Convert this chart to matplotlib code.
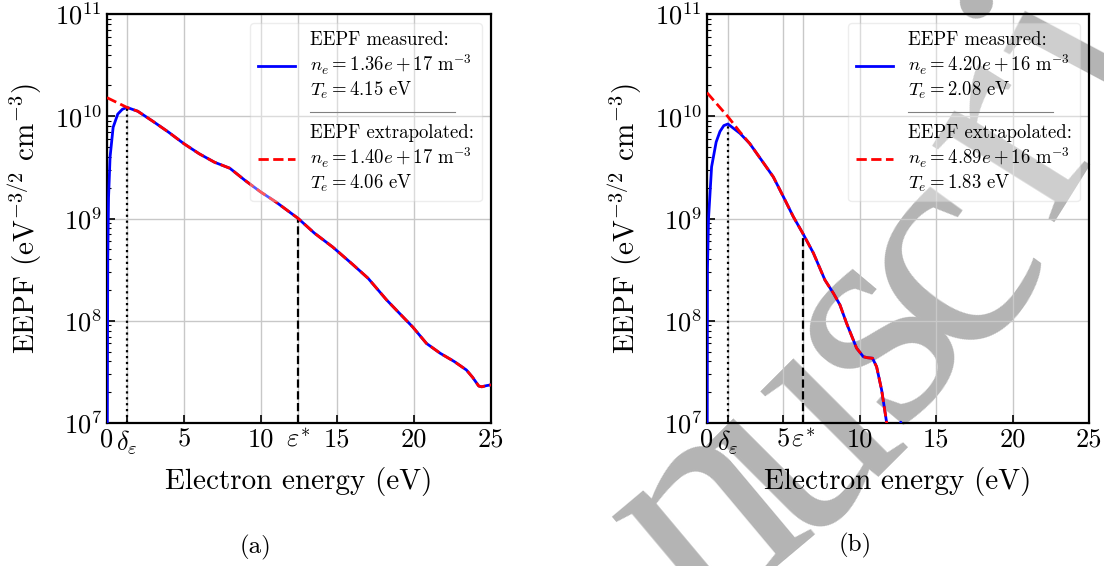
import numpy as np
import matplotlib
matplotlib.use("Agg")
import matplotlib.pyplot as plt
from matplotlib.lines import Line2D

plt.rcParams['font.family'] = 'serif'
plt.rcParams['font.serif'] = ['cmr10']
plt.rcParams['mathtext.fontset'] = 'cm'
plt.rcParams['axes.unicode_minus'] = False
plt.rcParams['axes.formatter.use_mathtext'] = True

# ---- panel (a) ----
energy_meas_a = [0.0, 0.05, 0.1, 0.2, 0.4, 0.7, 1.0, 1.3, 2.0, 3.0, 4.0, 5.0, 6.0, 7.0, 8.0,
                 9.0, 10.0, 11.0, 12.45, 13.5, 14.7, 16.0, 17.0, 18.2, 19.0, 19.9, 20.8,
                 21.7, 22.6, 23.4, 23.8, 24.2, 24.4, 24.7, 25.0]
eepf_meas_a = [1.0e6, 4.0e8, 1.6e9, 4.0e9, 7.8e9, 1.05e10, 1.17e10, 1.22e10, 1.12e10, 8.9e9,
               7.0e9, 5.4e9, 4.3e9, 3.55e9, 3.1e9, 2.35e9, 1.82e9, 1.45e9, 1.0e9, 7.2e8,
               5.25e8, 3.55e8, 2.6e8, 1.6e8, 1.2e8, 8.7e7, 6.0e7, 4.8e7, 4.0e7, 3.3e7,
               2.8e7, 2.3e7, 2.26e7, 2.32e7, 2.36e7]
energy_ext_a = [0.0, 1.3, 2.0, 3.0, 4.0, 5.0, 6.0, 7.0, 8.0, 9.0, 10.0, 11.0, 12.45, 13.5,
                14.7, 16.0, 17.0, 18.2, 19.0, 19.9, 20.8, 21.7, 22.6, 23.4, 23.8, 24.2,
                24.4, 24.7, 25.0]
eepf_ext_a = [1.52e10, 1.22e10, 1.12e10, 8.9e9, 7.0e9, 5.4e9, 4.3e9, 3.55e9, 3.1e9, 2.35e9,
              1.82e9, 1.45e9, 1.0e9, 7.2e8, 5.25e8, 3.55e8, 2.6e8, 1.6e8, 1.2e8, 8.7e7,
              6.0e7, 4.8e7, 4.0e7, 3.3e7, 2.8e7, 2.3e7, 2.26e7, 2.32e7, 2.36e7]
delta_a, eps_a = 1.3, 12.45
eepf_delta_a, eepf_eps_a = 1.22e10, 1.0e9
labels_a = ["EEPF measured:\n$n_e = 1.36e+17\\ \\mathrm{m}^{-3}$\n$T_e = 4.15\\ \\mathrm{eV}$",
            "EEPF extrapolated:\n$n_e = 1.40e+17\\ \\mathrm{m}^{-3}$\n$T_e = 4.06\\ \\mathrm{eV}$"]

# ---- panel (b) ----
energy_meas_b = [0.0, 0.03, 0.1, 0.3, 0.6, 0.85, 1.1, 1.37, 2.16, 2.8, 3.58, 4.34, 5.0, 5.65,
                 6.26, 6.96, 7.72, 8.27, 8.7, 9.14, 9.79, 10.23, 10.5, 10.83, 11.1, 11.43,
                 11.76, 12.0, 12.4, 12.68, 12.9]
eepf_meas_b = [1.0e6, 3.2e8, 1.0e9, 3.2e9, 5.6e9, 7.1e9, 8.1e9, 8.4e9, 6.8e9, 5.4e9, 3.7e9,
               2.55e9, 1.63e9, 1.04e9, 7.2e8, 4.6e8, 2.5e8, 1.86e8, 1.43e8, 9.4e7, 5.4e7,
               4.45e7, 4.35e7, 4.3e7, 3.55e7, 2.1e7, 1.0e7, 4.0e6, 5.0e6, 1.02e7, 6.3e6]
energy_ext_b = [0.0, 0.7, 1.37, 2.16, 2.8, 3.58, 4.34, 5.0, 5.65, 6.26, 6.96, 7.72, 8.27, 8.7,
                9.14, 9.79, 10.23, 10.5, 10.83, 11.1, 11.43, 11.76, 12.0]
eepf_ext_b = [1.7e10, 1.29e10, 9.9e9, 7.0e9, 5.4e9, 3.7e9, 2.55e9, 1.63e9, 1.04e9, 7.2e8,
              4.6e8, 2.5e8, 1.86e8, 1.43e8, 9.4e7, 5.4e7, 4.45e7, 4.35e7, 4.3e7, 3.55e7,
              2.1e7, 1.0e7, 4.0e6]
delta_b, eps_b = 1.37, 6.26
eepf_delta_b, eepf_eps_b = 8.4e9, 7.2e8
labels_b = ["EEPF measured:\n$n_e = 4.20e+16\\ \\mathrm{m}^{-3}$\n$T_e = 2.08\\ \\mathrm{eV}$",
            "EEPF extrapolated:\n$n_e = 4.89e+16\\ \\mathrm{m}^{-3}$\n$T_e = 1.83\\ \\mathrm{eV}$"]

# "Accepted Manuscript" watermark fragment: letter, centre (px), angle
wm_letters = list("nuscri")
wm_x = [712, 805, 878, 950, 1015, 1080]
wm_y = [522, 445, 335, 265, 140, 50]
wm_rot = [40, 45, 50, 54, 58, 62]

fig = plt.figure(figsize=(11.04, 5.66), dpi=100)

wm_size = 225
em = wm_size * 100 / 72
for ch, px, py, rot in zip(wm_letters, wm_x, wm_y, wm_rot):
    th = np.radians(rot)
    bx = px + 0.23 * em * np.sin(th)
    by = py + 0.23 * em * np.cos(th)
    fig.text(bx / 1104, 1 - by / 566, ch, fontsize=wm_size, family='Liberation Serif',
             color='#b4b4b4', ha='center', va='baseline',
             rotation=rot, rotation_mode='anchor', zorder=-1)

ax_a = fig.add_axes([107 / 1104, 143 / 566, 384 / 1104, 409 / 566])
ax_b = fig.add_axes([707 / 1104, 143 / 566, 382 / 1104, 409 / 566])


def draw_panel(ax, e_m, f_m, e_x, f_x, delta, eps, f_delta, f_eps, labels):
    ax.set_facecolor('none')
    ax.plot(e_m, f_m, color='blue', lw=2, label=labels[0], zorder=3)
    ax.plot(e_x, f_x, color='red', lw=2, ls='--', label=labels[1], zorder=4)
    ax.vlines(delta, 1e7, f_delta, colors='k', linestyles=':', lw=1.6, zorder=2)
    ax.vlines(eps, 1e7, f_eps, colors='k', linestyles='--', lw=1.6, zorder=2)
    ax.set_yscale('log')
    ax.set_xlim(0, 25)
    ax.set_ylim(1e7, 1e11)
    ticks = [0, delta, 5, 10, eps, 15, 20, 25]
    ticklabels = ['0', r'$\delta_\varepsilon$', '5', '10', r'$\varepsilon^{*}$', '15', '20', '25']
    ax.set_xticks(ticks)
    ax.set_xticklabels(ticklabels)
    ax.tick_params(axis='both', which='both', direction='in', top=False, right=False, labelsize=19)
    ax.tick_params(which='major', length=6, width=1.2)
    ax.tick_params(which='minor', length=3, width=0.8)
    ax.grid(True, which='major', color='#c8c8c8', lw=1)
    for sp in ax.spines.values():
        sp.set_linewidth(1.6)
    ax.set_xlabel('Electron energy (eV)', fontsize=21, labelpad=8)
    ax.set_ylabel(r'EEPF (eV$^{-3/2}$ cm$^{-3}$)', fontsize=21, labelpad=8)
    leg = ax.legend(loc='upper right', fontsize=13.5, labelspacing=1.2, handlelength=2.0,
                    framealpha=0.35)
    return leg


leg_a = draw_panel(ax_a, energy_meas_a, eepf_meas_a, energy_ext_a, eepf_ext_a,
                   delta_a, eps_a, eepf_delta_a, eepf_eps_a, labels_a)
leg_b = draw_panel(ax_b, energy_meas_b, eepf_meas_b, energy_ext_b, eepf_ext_b,
                   delta_b, eps_b, eepf_delta_b, eepf_eps_b, labels_b)

fig.text(255 / 1104, 1 - 547 / 566, '(a)', fontsize=18, ha='center', va='center')
fig.text(855 / 1104, 1 - 545 / 566, '(b)', fontsize=18, ha='center', va='center')

# thin separator between the two legend entries
fig.canvas.draw()
inv = fig.transFigure.inverted()
for leg in (leg_a, leg_b):
    t0, t1 = leg.get_texts()
    b0 = t0.get_window_extent()
    b1 = t1.get_window_extent()
    ymid = (b0.y0 + b1.y1) / 2
    p0 = inv.transform((b0.x0, ymid))
    p1 = inv.transform((b0.x0 + 145, ymid))
    fig.add_artist(Line2D([p0[0], p1[0]], [p0[1], p1[1]], color='#808080', lw=0.8, zorder=10))

fig.savefig('out.png', dpi=100)
